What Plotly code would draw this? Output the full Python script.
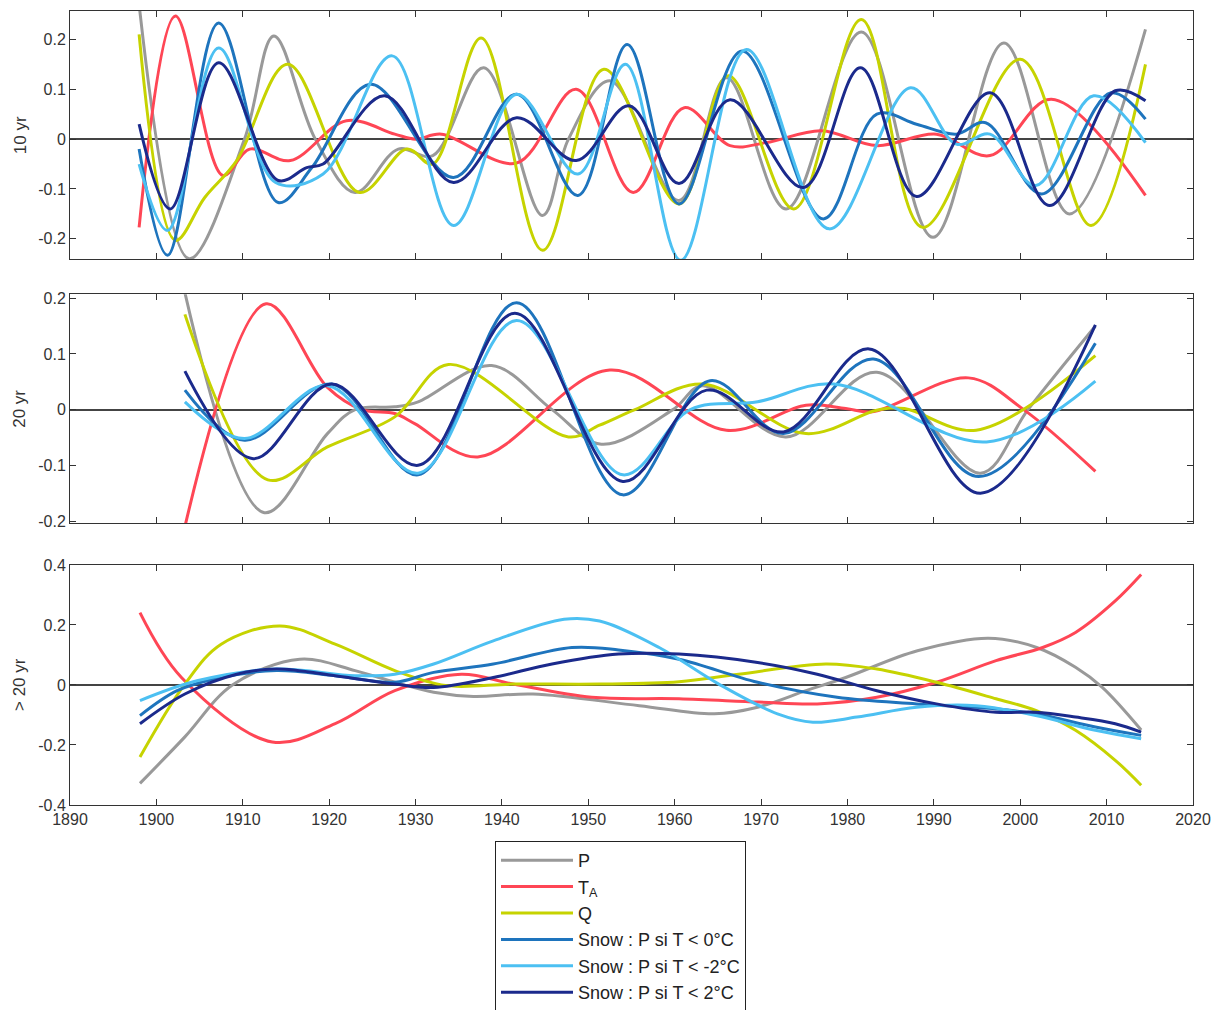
import plotly.graph_objects as go

# ---------------- data ----------------
# Panel 1 : 10 yr
p10_x = [1898, 1903.8, 1910.2, 1913.6, 1918.4, 1923, 1928, 1932, 1937.9, 1944.7, 1947.7, 1952.5, 1960.5, 1966, 1972.9, 1981.6, 1989.9, 1998.1, 2005.7, 2014.5]
p10_y = [0.27, -0.24, 0.0, 0.207, 0.0, -0.107, -0.02, -0.033, 0.143, -0.153, 0.0, 0.117, -0.123, 0.123, -0.14, 0.215, -0.197, 0.193, -0.15, 0.22]
ta10_x = [1898, 1902.2, 1907.7, 1910.8, 1915.5, 1922, 1927.6, 1930, 1933, 1941.7, 1948.6, 1955.2, 1961.1, 1966.4, 1970.6, 1977, 1983.4, 1990.3, 1996.5, 2003.6, 2014.5]
ta10_y = [-0.177, 0.247, -0.073, -0.02, -0.043, 0.037, 0.01, 0.0, 0.01, -0.048, 0.1, -0.107, 0.063, -0.013, -0.007, 0.017, -0.013, 0.01, -0.033, 0.08, -0.113]
q10_x = [1898, 1902.2, 1905.6, 1909.3, 1915.2, 1923.5, 1929, 1932, 1937.6, 1944.7, 1951.8, 1960.5, 1966.2, 1973.8, 1981.6, 1988.7, 2000, 2008.2, 2014.5]
q10_y = [0.21, -0.203, -0.117, -0.043, 0.15, -0.107, -0.02, -0.05, 0.203, -0.223, 0.14, -0.13, 0.127, -0.14, 0.24, -0.177, 0.16, -0.173, 0.15]
s0_10_x = [1898, 1901.3, 1907.2, 1914.1, 1918, 1924.8, 1934.4, 1941.7, 1948.8, 1954.5, 1960.5, 1967.8, 1977.2, 1983.4, 1988, 1992.6, 1996, 2002.5, 2010.5, 2014.5]
s0_10_y = [-0.02, -0.233, 0.233, -0.127, -0.057, 0.11, -0.077, 0.09, -0.113, 0.19, -0.13, 0.177, -0.16, 0.05, 0.03, 0.01, 0.033, -0.11, 0.093, 0.04]
sm2_10_x = [1898, 1901.3, 1907.2, 1913.8, 1919.3, 1927.3, 1934.4, 1941.7, 1948.8, 1954.3, 1960.7, 1968.3, 1977.9, 1987.3, 1992.6, 1996.5, 2001.8, 2008.5, 2014.5]
sm2_10_y = [-0.05, -0.183, 0.183, -0.087, -0.07, 0.167, -0.173, 0.09, -0.07, 0.15, -0.243, 0.18, -0.18, 0.103, -0.01, 0.01, -0.093, 0.087, -0.007]
s2_10_x = [1898, 1901.6, 1907.2, 1914.1, 1917.4, 1919.3, 1926.4, 1934.4, 1941.7, 1948.6, 1954.7, 1960.5, 1966.4, 1974.9, 1981.5, 1988, 1996.5, 2003.4, 2011, 2014.5]
s2_10_y = [0.03, -0.14, 0.153, -0.083, -0.057, -0.05, 0.087, -0.087, 0.043, -0.043, 0.067, -0.089, 0.079, -0.097, 0.143, -0.115, 0.093, -0.133, 0.097, 0.077]

# Panel 2 : 20 yr
p20_x = [1903.3, 1912.5, 1919.8, 1923, 1927.6, 1930.3, 1938.8, 1945.8, 1951.5, 1959.8, 1963.2, 1972.9, 1983.4, 1995.4, 2000.9, 2008.7]
p20_y = [0.21, -0.185, -0.043, 0.0, 0.005, 0.014, 0.079, 0.0, -0.062, 0.0, 0.043, -0.049, 0.067, -0.114, 0.0, 0.15]
ta20_x = [1903.3, 1912.7, 1919.8, 1923.8, 1927.6, 1929.9, 1937.2, 1952.5, 1966, 1975.2, 1979.8, 1982.9, 1994, 2000.4, 2008.7]
ta20_y = [-0.21, 0.19, 0.04, 0.0, -0.007, -0.025, -0.085, 0.071, -0.037, 0.008, 0.002, -0.004, 0.057, 0.0, -0.111]
q20_x = [1903.3, 1912.9, 1919.8, 1927.6, 1933.8, 1947.7, 1951.3, 1955.4, 1963.2, 1975.2, 1983.4, 1986.6, 1994.9, 2008.7]
q20_y = [0.171, -0.126, -0.067, -0.013, 0.081, -0.049, -0.028, 0.0, 0.046, -0.043, -0.001, 0.002, -0.037, 0.097]
s0_20_x = [1903.3, 1910.2, 1920.3, 1930.3, 1941.7, 1954, 1964.1, 1972.6, 1983, 1995.2, 2008.7]
s0_20_y = [0.035, -0.055, 0.046, -0.117, 0.192, -0.153, 0.052, -0.043, 0.091, -0.12, 0.119]
sm2_20_x = [1903.3, 1910.2, 1919.8, 1930.3, 1941.7, 1954, 1961.8, 1969.6, 1978.4, 1996.1, 2008.7]
sm2_20_y = [0.014, -0.052, 0.043, -0.114, 0.16, -0.117, 0.0, 0.014, 0.046, -0.058, 0.051]
s2_20_x = [1903.3, 1911.2, 1920.3, 1930.3, 1941.5, 1954, 1963.7, 1972.6, 1982.5, 1995.4, 2008.7]
s2_20_y = [0.069, -0.088, 0.046, -0.1, 0.173, -0.129, 0.035, -0.04, 0.109, -0.15, 0.152]

# Panel 3 : > 20 yr
p30_x = [1898.1, 1903.3, 1908.8, 1916.6, 1923, 1927.6, 1932.1, 1936.7, 1943.6, 1955.9, 1964.6, 1969.6, 1975.2, 1979.8, 1988.1, 1996.3, 2001.9, 2006.4, 2009.5, 2014]
p30_y = [-0.328, -0.173, 0.0, 0.086, 0.048, 0.009, -0.024, -0.038, -0.03, -0.069, -0.096, -0.074, -0.019, 0.025, 0.114, 0.156, 0.125, 0.059, -0.008, -0.15]
ta30_x = [1898.1, 1902.9, 1913.4, 1920.7, 1927.6, 1935.3, 1941.3, 1950.4, 1960.5, 1969.7, 1976.5, 1983.4, 1990.3, 1997.2, 2002.6, 2006.4, 2011, 2014]
ta30_y = [0.241, 0.025, -0.19, -0.129, -0.019, 0.036, 0.003, -0.041, -0.046, -0.057, -0.063, -0.041, 0.009, 0.081, 0.125, 0.175, 0.28, 0.368]
q30_x = [1898.1, 1903.3, 1907.5, 1914.3, 1920.7, 1927.6, 1933.5, 1941.3, 1951.3, 1960.5, 1967.4, 1977.5, 1983.4, 1990.3, 1997.2, 2001.8, 2006.4, 2011, 2014]
q30_y = [-0.24, 0.003, 0.136, 0.197, 0.136, 0.048, -0.002, 0.003, 0.003, 0.011, 0.036, 0.07, 0.053, 0.009, -0.046, -0.085, -0.151, -0.251, -0.334]
s0_30_x = [1898.1, 1902.4, 1907.5, 1913.9, 1920.7, 1927.6, 1932.1, 1939, 1948.1, 1953.5, 1960.5, 1969.6, 1978.8, 1988, 1997.2, 2001.8, 2008.7, 2014]
s0_30_y = [-0.102, -0.019, 0.025, 0.048, 0.031, 0.009, 0.042, 0.07, 0.125, 0.117, 0.086, 0.009, -0.041, -0.063, -0.08, -0.096, -0.14, -0.168]
sm2_30_x = [1898.1, 1904.7, 1913.9, 1923, 1927.6, 1932.1, 1939, 1947.2, 1951.3, 1958.2, 1965.1, 1971.9, 1976, 1981.1, 1988, 1994.9, 2001.8, 2008.7, 2014]
sm2_30_y = [-0.052, 0.014, 0.053, 0.031, 0.036, 0.07, 0.147, 0.219, 0.213, 0.125, 0.003, -0.096, -0.124, -0.107, -0.074, -0.069, -0.102, -0.151, -0.179]
s2_30_x = [1898.1, 1903.3, 1909.3, 1913.9, 1920.7, 1927.6, 1932.1, 1939, 1945.8, 1953.5, 1960.5, 1969.6, 1976.5, 1983.4, 1990.3, 1997.2, 2001.8, 2006.4, 2011, 2014]
s2_30_y = [-0.129, -0.03, 0.036, 0.053, 0.031, 0.003, -0.008, 0.025, 0.07, 0.103, 0.103, 0.075, 0.036, -0.019, -0.063, -0.091, -0.091, -0.107, -0.129, -0.157]

series_names = ["P", "T<sub>A</sub>", "Q", "Snow : P si T < 0°C", "Snow : P si T < -2°C", "Snow : P si T < 2°C"]
series_colors = ["#999999", "#ff4655", "#c6d300", "#1e74bd", "#4cc0f2", "#1b2a8c"]

panel_titles = ["10 yr", "20 yr", "> 20 yr"]
y_ranges = [[-0.241, 0.257], [-0.204, 0.207], [-0.4, 0.4]]
y_ticks = [[-0.2, -0.1, 0, 0.1, 0.2], [-0.2, -0.1, 0, 0.1, 0.2], [-0.4, -0.2, 0, 0.2, 0.4]]
y_ticktext = [["-0.2", "-0.1", "0", "0.1", "0.2"], ["-0.2", "-0.1", "0", "0.1", "0.2"], ["-0.4", "-0.2", "0", "0.2", "0.4"]]
x_ticks = [1890, 1900, 1910, 1920, 1930, 1940, 1950, 1960, 1970, 1980, 1990, 2000, 2010, 2020]

panels = [
    [(p10_x, p10_y), (ta10_x, ta10_y), (q10_x, q10_y), (s0_10_x, s0_10_y), (sm2_10_x, sm2_10_y), (s2_10_x, s2_10_y)],
    [(p20_x, p20_y), (ta20_x, ta20_y), (q20_x, q20_y), (s0_20_x, s0_20_y), (sm2_20_x, sm2_20_y), (s2_20_x, s2_20_y)],
    [(p30_x, p30_y), (ta30_x, ta30_y), (q30_x, q30_y), (s0_30_x, s0_30_y), (sm2_30_x, sm2_30_y), (s2_30_x, s2_30_y)],
]

# ---------------- figure ----------------
FONT = "Liberation Sans, Arial, sans-serif"
fig = go.Figure()

domains = [[0.6873, 1.0], [0.3548, 0.6432], [0.0, 0.3023]]

for pi, panel in enumerate(panels):
    xa = "x" if pi == 0 else f"x{pi+1}"
    ya = "y" if pi == 0 else f"y{pi+1}"
    for si, (xs, ys) in enumerate(panel):
        fig.add_trace(go.Scatter(
            x=xs, y=ys, mode="lines", xaxis=xa, yaxis=ya,
            line=dict(color=series_colors[si], width=3, shape="spline", smoothing=1.0),
            name=series_names[si], showlegend=(pi == 2), legendgroup=str(si),
        ))

axis_common = dict(showline=True, linecolor="#333333", linewidth=1, mirror="ticks",
                   ticks="inside", ticklen=6, tickcolor="#333333", showgrid=False,
                   tickfont=dict(family=FONT, size=16, color="#333333"))

annotations = []
for pi in range(3):
    annotations.append(dict(
        text=panel_titles[pi], xref="paper", yref="paper",
        x=(20 - 70) / 1123, y=(domains[pi][0] + domains[pi][1]) / 2,
        xanchor="center", yanchor="middle", textangle=-90, showarrow=False,
        font=dict(family=FONT, size=17, color="#333333"),
    ))

layout = dict(
    width=1225, height=1010,
    margin=dict(l=70, r=32, t=11, b=205, autoexpand=False),
    paper_bgcolor="white", plot_bgcolor="white",
    font=dict(family=FONT, size=16, color="#333333"),
    showlegend=True,
    legend=dict(xref="container", yref="container", x=495 / 1225, y=1 - 841 / 1010,
                xanchor="left", yanchor="top",
                bordercolor="#222222", borderwidth=1, bgcolor="white",
                font=dict(family=FONT, size=18, color="#222222"),
                tracegroupgap=0, itemwidth=72),
    annotations=annotations,
)

for pi in range(3):
    xk = "xaxis" if pi == 0 else f"xaxis{pi+1}"
    yk = "yaxis" if pi == 0 else f"yaxis{pi+1}"
    ya = "y" if pi == 0 else f"y{pi+1}"
    xa = "x" if pi == 0 else f"x{pi+1}"
    layout[xk] = dict(axis_common, range=[1890, 2020], tickvals=x_ticks,
                      showticklabels=(pi == 2), anchor=ya, domain=[0, 1])
    layout[yk] = dict(axis_common, range=y_ranges[pi], tickvals=y_ticks[pi],
                      ticktext=y_ticktext[pi], domain=domains[pi], anchor=xa,
                      zeroline=True, zerolinecolor="#444444", zerolinewidth=2)

fig.update_layout(**layout)
fig.write_html("out.html")
